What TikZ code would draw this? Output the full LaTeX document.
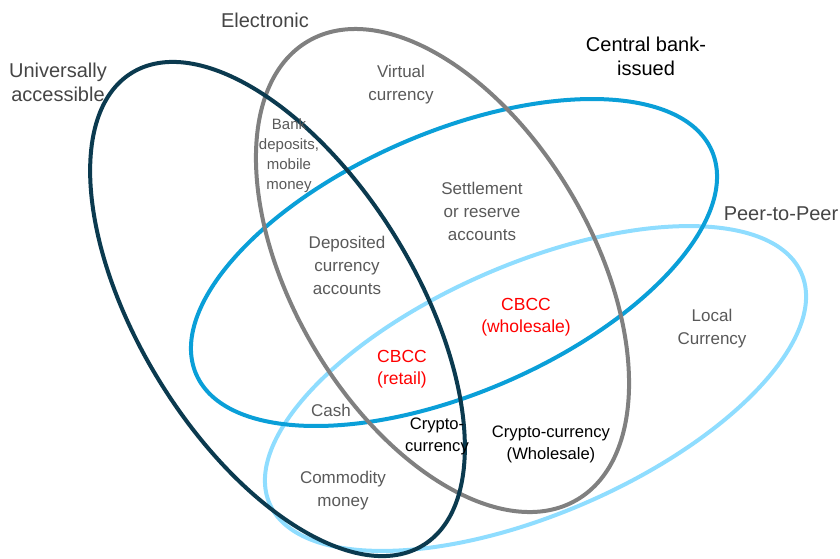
\documentclass[tikz,border=0pt]{standalone}
\usepackage{fontspec}
\setmainfont{Liberation Sans}
\begin{document}
\begin{tikzpicture}[x=1pt,y=1pt,
  ring/.style={line width=4pt},
  head/.style={font=\fontsize{20}{24}\selectfont, align=center, inner sep=0pt},
  lbl/.style={font=\fontsize{17}{23}\selectfont, align=center, inner sep=0pt, text=labgray},
  small/.style={font=\fontsize{15}{20}\selectfont, align=center, inner sep=0pt, text=labgray},
  red/.style={font=\fontsize{17.5}{22}\selectfont, align=center, inner sep=0pt, text=cbred},
  blk/.style={font=\fontsize{16.6}{22}\selectfont, align=center, inner sep=0pt, text=black}]
\definecolor{darkring}{HTML}{0B3A4F}
\definecolor{grayring}{HTML}{808080}
\definecolor{bluering}{HTML}{0A9FD8}
\definecolor{lightring}{HTML}{8FDDFF}
\definecolor{labgray}{HTML}{595959}
\definecolor{headgray}{HTML}{454545}
\definecolor{cbred}{HTML}{FF0000}
\useasboundingbox (0,0) rectangle (840,-558);
% rings
\draw[ring, lightring, rotate around={23.4:(535.5,-388.5)}] (535.5,-388.5) ellipse [x radius=289.8, y radius=124.9];
\draw[ring, bluering, rotate around={23.4:(454,-262.5)}] (454,-262.5) ellipse [x radius=281, y radius=130.2];
\draw[ring, grayring, rotate around={-59.6:(442.5,-270.5)}] (442.5,-270.5) ellipse [x radius=265.8, y radius=149.9];
\draw[ring, darkring, rotate around={-58.3:(277.5,-309)}] (277.5,-309) ellipse [x radius=277.5, y radius=138.3];
% headings
\node[head, text=headgray] (electronic) at (265,-20) {Electronic};
\node[head, text=headgray] (universal) at (58,-82) {Universally\\accessible};
\node[head, text=black] (central) at (646,-56) {Central bank-\\issued};
\node[head, text=headgray] (p2p) at (781,-214) {Peer-to-Peer};
% labels
\node[lbl] (virtual) at (401,-85) {Virtual\\currency};
\node[small] (bank) at (289,-156) {Bank\\deposits,\\mobile\\money};
\node[lbl] (settle) at (482,-211) {Settlement\\or reserve\\accounts};
\node[lbl] (deposited) at (347,-265) {Deposited\\currency\\accounts};
\node[red] (cbccw) at (526,-317) {CBCC\\(wholesale)};
\node[red] (cbccr) at (402,-369) {CBCC\\(retail)};
\node[lbl] (local) at (712,-329) {Local\\Currency};
\node[lbl] (cash) at (331,-410) {Cash};
\node[blk] (crypto) at (437,-436) {Crypto-\\currency};
\node[blk] (cryptow) at (551,-444) {Crypto-currency\\(Wholesale)};
\node[lbl] (commodity) at (343,-491) {Commodity\\money};
\end{tikzpicture}
\end{document}
